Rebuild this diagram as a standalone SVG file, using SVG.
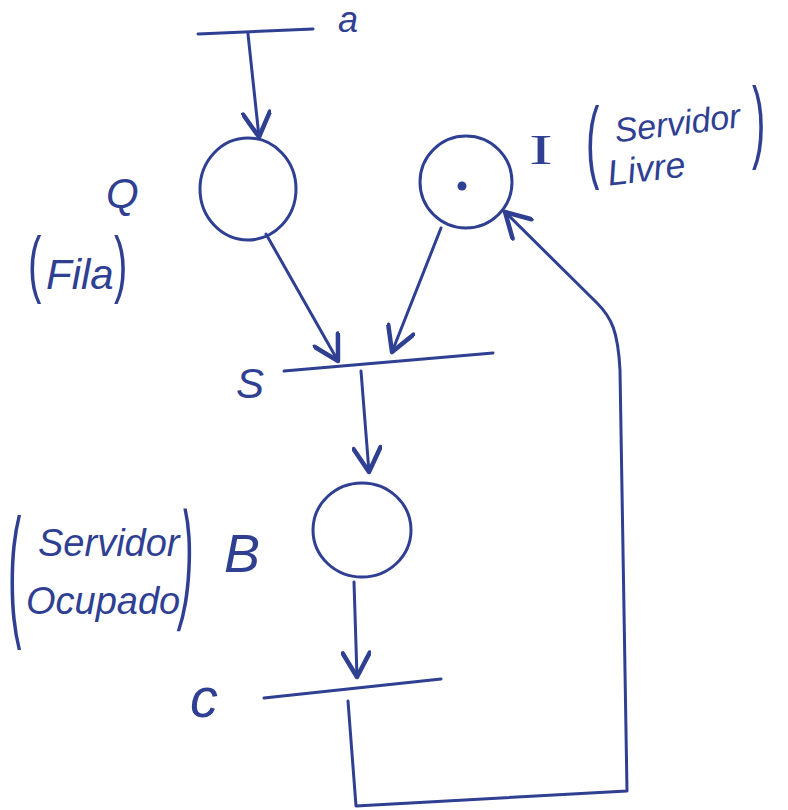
<svg xmlns="http://www.w3.org/2000/svg" width="788" height="810" viewBox="0 0 788 810">
<defs>
<style>
.ink{stroke:#2f3f92;stroke-width:3;fill:none;stroke-linecap:round;stroke-linejoin:round}
.lbl{fill:#2f3f92;font-family:"Liberation Sans","DejaVu Sans",sans-serif;font-style:italic}
.par{fill:#2f3f92;font-family:"Liberation Sans","DejaVu Sans",sans-serif;font-size:40px}
.tok{fill:#2f3f92}
</style>
<marker id="arr" markerUnits="userSpaceOnUse" markerWidth="30" markerHeight="30" refX="18" refY="10" viewBox="0 0 20 20" orient="auto">
<path d="M2,1 L18,10 L2,19" fill="none" stroke="#2f3f92" stroke-width="3" stroke-linecap="round" stroke-linejoin="round"/>
</marker>
</defs>
<rect width="788" height="810" fill="#ffffff"/>

<g id="t-a">
<line class="ink" x1="198" y1="34" x2="313" y2="29"/>
<text class="lbl" x="338" y="32" font-size="36" font-style="normal">a</text>
</g>

<g id="p-Q">
<ellipse class="ink" cx="248" cy="189" rx="48" ry="51"/>
<text class="lbl" x="106" y="208" font-size="42" font-style="normal">Q</text>
<text class="par" transform="translate(28 289) scale(1 1.85)">(</text>
<text class="lbl" x="46" y="289" font-size="42">Fila</text>
<text class="par" transform="translate(114 289) scale(1 1.85)">)</text>
</g>

<g id="p-I">
<circle class="ink" cx="466" cy="182" r="46"/>
<circle class="tok" cx="462" cy="186" r="4.5"/>
<text x="0" y="0" font-size="42" text-anchor="middle" fill="#2f3f92" font-family="'Liberation Serif',serif" transform="translate(541 164) scale(1.7 1)">I</text>
<text class="par" transform="translate(586 171) scale(1 2.25)">(</text>
<g transform="rotate(-7 670 140)">
<text class="lbl" x="616" y="136" font-size="34">Servidor</text>
<text class="lbl" x="604" y="178" font-size="36">Livre</text>
</g>
<text class="par" transform="translate(752 151) scale(1 2.25)">)</text>
</g>

<g id="t-S">
<line class="ink" x1="284" y1="371" x2="493" y2="353"/>
<text class="lbl" x="236" y="398" font-size="42" font-style="normal">S</text>
</g>

<g id="p-B">
<ellipse class="ink" cx="362" cy="530" rx="49" ry="47"/>
<text class="lbl" x="224" y="572" font-size="54">B</text>
<text class="par" font-size="44" transform="translate(8 620) scale(1 3.6)">(</text>
<text class="lbl" x="38" y="556" font-size="38">Servidor</text>
<text class="lbl" x="26" y="614" font-size="38">Ocupado</text>
<text class="par" font-size="44" transform="translate(178 604) scale(1 3.3) skewX(-10)">)</text>
</g>

<g id="t-c">
<line class="ink" x1="264" y1="698" x2="441" y2="679"/>
<text class="lbl" x="190" y="717" font-size="56">c</text>
</g>

<g id="connectors">
<line class="ink" x1="248" y1="34" x2="259" y2="137" marker-end="url(#arr)"/>
<line class="ink" x1="266" y1="234" x2="338" y2="361" marker-end="url(#arr)"/>
<line class="ink" x1="441" y1="228" x2="392" y2="352" marker-end="url(#arr)"/>
<line class="ink" x1="361" y1="371" x2="369" y2="472" marker-end="url(#arr)"/>
<line class="ink" x1="354" y1="582" x2="357" y2="677" marker-end="url(#arr)"/>
<path class="ink" d="M348,701 L356,806 L627,791 L620,370 C618,332 612,318 597,303 L505,212" marker-end="url(#arr)"/>
</g>
</svg>
